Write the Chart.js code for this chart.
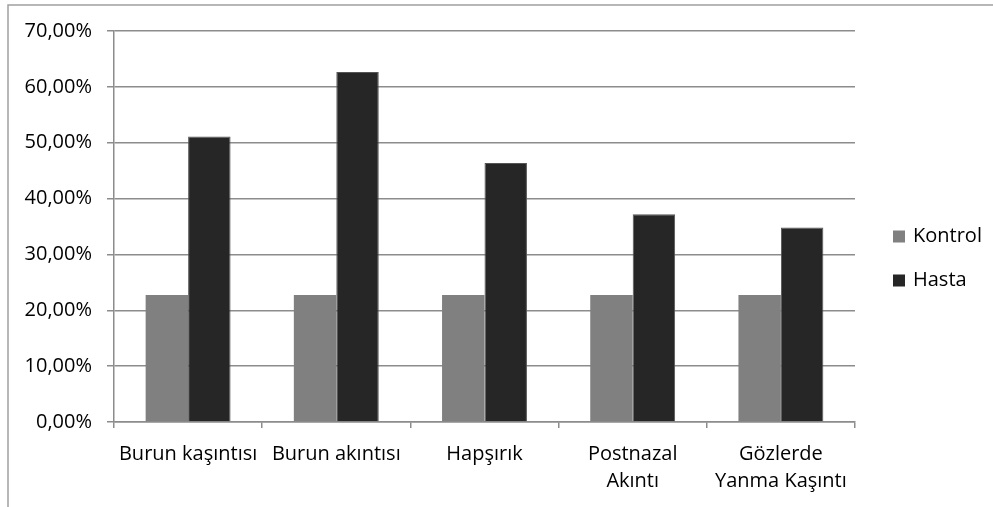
<!DOCTYPE html>
<html>
<head>
<meta charset="utf-8">
<script src="https://cdn.jsdelivr.net/npm/chart.js@4.4.1/dist/chart.umd.min.js"></script>
<style>
  html, body { margin: 0; padding: 0; background: #fff; }
  #wrap { position: relative; width: 993px; height: 507px; }
</style>
</head>
<body>
<div id="wrap"><canvas id="c" width="993" height="507"></canvas></div>
<script>
// Symptom categories (multi-line labels as arrays)
const categories = [
  'Burun kaşıntısı',
  'Burun akıntısı',
  'Hapşırık',
  ['Postnazal', 'Akıntı'],
  ['Gözlerde', 'Yanma Kaşıntı']
];
const seriesNames = ['Kontrol', 'Hasta'];
const kontrolValues = [22.73, 22.73, 22.73, 22.73, 22.73];
const hastaValues = [51.13, 62.68, 46.37, 37.20, 34.82];
const yTicks = [0, 10, 20, 30, 40, 50, 60, 70];

const FONT = '"Open Sans", sans-serif';
const GRID = '#8c8c8c';

// Outer frame (left and top edges of the chart border)
const framePlugin = {
  id: 'frame',
  beforeDraw(chart) {
    const ctx = chart.ctx;
    ctx.save();
    ctx.fillStyle = '#fff';
    ctx.fillRect(0, 0, chart.width, chart.height);
    ctx.strokeStyle = '#a0a0a0';
    ctx.lineWidth = 1.5;
    ctx.beginPath();
    ctx.moveTo(8, chart.height);
    ctx.lineTo(8, 5);
    ctx.lineTo(chart.width, 5);
    ctx.stroke();
    ctx.restore();
  }
};

// Legend on the right: square swatch + series name
const sideLegend = {
  id: 'sideLegend',
  afterDraw(chart) {
    const ctx = chart.ctx;
    const ds = chart.data.datasets;
    const x = chart.chartArea.right + 38;
    const mid = (chart.chartArea.top + chart.chartArea.bottom) / 2 + 30;
    const gap = 44;
    ctx.save();
    ctx.font = '20px ' + FONT;
    ctx.textBaseline = 'middle';
    ctx.textAlign = 'left';
    ds.forEach((d, i) => {
      const cy = mid - gap / 2 + i * gap + 2;
      ctx.fillStyle = d.backgroundColor;
      ctx.fillRect(x, cy - 6, 12, 12);
      ctx.fillStyle = '#000';
      ctx.fillText(d.label, x + 20, cy);
    });
    ctx.restore();
  }
};

new Chart(document.getElementById('c'), {
  type: 'bar',
  data: {
    labels: categories,
    datasets: [
      { label: seriesNames[0], data: kontrolValues, backgroundColor: '#808080',
        borderColor: '#7a7a7a', borderWidth: 0 },
      { label: seriesNames[1], data: hastaValues, backgroundColor: '#262626',
        borderColor: '#555', borderWidth: 1 }
    ]
  },
  options: {
    responsive: false,
    animation: false,
    events: [],
    layout: { padding: { left: 0, right: 138, top: 31, bottom: 0 } },
    datasets: {
      bar: { categoryPercentage: 0.573, barPercentage: 1.0 }
    },
    plugins: {
      legend: { display: false },
      tooltip: { enabled: false }
    },
    scales: {
      x: {
        grid: {
          display: true,
          drawOnChartArea: false,
          drawTicks: true,
          tickLength: 6,
          color: GRID,
          lineWidth: 1.5,
          offset: true
        },
        border: { display: true, color: GRID, width: 1.5 },
        ticks: {
          color: '#000',
          font: { family: FONT, size: 20, lineHeight: 1.35 },
          padding: 13,
          maxRotation: 0,
          autoSkip: false
        },
        afterFit(scale) { scale.height = 85; }
      },
      y: {
        min: 0,
        max: 70,
        afterBuildTicks(scale) { scale.ticks = yTicks.map(v => ({ value: v })); },
        grid: {
          color: GRID,
          lineWidth: 1.5,
          drawTicks: true,
          tickLength: 7
        },
        border: { display: true, color: GRID, width: 1.5 },
        ticks: {
          color: '#000',
          font: { family: FONT, size: 20 },
          padding: 15,
          callback: v => v.toFixed(2).replace('.', ',') + '%'
        },
        afterFit(scale) { scale.width = 114; }
      }
    }
  },
  plugins: [framePlugin, sideLegend]
});
</script>
</body>
</html>
